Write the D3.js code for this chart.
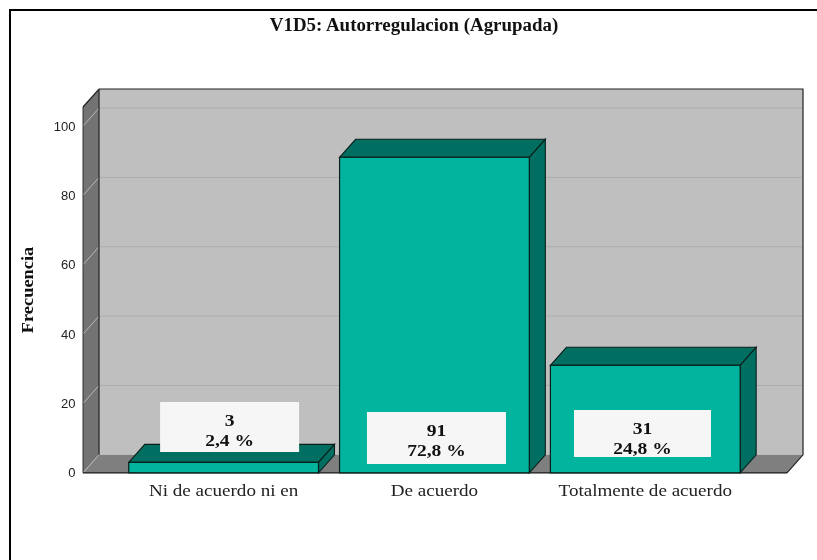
<!DOCTYPE html>
<html><head><meta charset="utf-8">
<script src="https://cdn.jsdelivr.net/npm/d3@7"></script>
<style>html,body{margin:0;padding:0;background:#fff}svg{display:block;filter:blur(.3px)}</style>
</head><body><svg id="c" width="817" height="560"></svg>
<script>
const categories = ["Ni de acuerdo ni en", "De acuerdo", "Totalmente de acuerdo"];
const counts = [3, 91, 31];
const percents = ["2,4 %", "72,8 %", "24,8 %"];
const yTicks = [0, 20, 40, 60, 80, 100];
const title = "V1D5: Autorregulacion (Agrupada)";
const yTitle = "Frecuencia";

const svg = d3.select("#c");
const dx = 16, dy = -18;
const y = d3.scaleLinear().domain([0, 105.5]).range([472.8, 107]);
const x = d3.scaleBand().domain(categories).range([118.2, 750.7]).paddingInner(0.1).paddingOuter(0.05);
const left = 83, right = 787, y0 = y(0), yT = y(105.5);
const serif = "'Liberation Serif','Times New Roman',serif";
const poly = (pts, fill, stroke, sw) => svg.append("polygon")
  .attr("points", pts.map(p => p.join(",")).join(" "))
  .attr("fill", fill).attr("stroke", stroke || "none").attr("stroke-width", sw || 0);
// the reference's serif glyphs are wider than the font's natural widths
const stretch = (sel, k) => sel.each(function () {
  const w = this.getComputedTextLength();
  d3.select(this).attr("textLength", w * k).attr("lengthAdjust", "spacingAndGlyphs");
});

// frame
svg.append("path").attr("d", "M10,560V10H817").attr("fill", "none").attr("stroke", "#000").attr("stroke-width", 2);

// walls
poly([[left + dx, yT + dy], [right + dx, yT + dy], [right + dx, y0 + dy], [left + dx, y0 + dy]], "#bfbfbf");
poly([[left, y0], [left + dx, y0 + dy], [left + dx, yT + dy], [left, yT]], "#737373");
poly([[left, y0], [left + dx, y0 + dy], [right + dx, y0 + dy], [right, y0]], "#7f7f7f");

// gridlines
yTicks.filter(t => t > 0).forEach(t => {
  svg.append("line").attr("x1", left + dx).attr("x2", right + dx).attr("y1", y(t) + dy).attr("y2", y(t) + dy).attr("stroke", "#adadad");
});
yTicks.forEach(t => {
  svg.append("line").attr("x1", left).attr("x2", left + dx).attr("y1", y(t)).attr("y2", y(t) + dy).attr("stroke", "#b9b9b9");
});

// wall outlines
svg.append("path").attr("d", `M${left},${yT}L${left + dx},${yT + dy}H${right + dx}V${y0 + dy}L${right},${y0}`)
  .attr("fill", "none").attr("stroke", "#222").attr("stroke-width", 1.2);
svg.append("line").attr("x1", left + dx).attr("x2", left + dx).attr("y1", yT + dy).attr("y2", y0 + dy).attr("stroke", "#333").attr("stroke-width", 1.4);
svg.append("line").attr("x1", left).attr("x2", left).attr("y1", yT).attr("y2", y0).attr("stroke", "#333");
svg.append("line").attr("x1", left).attr("x2", right).attr("y1", y0).attr("y2", y0).attr("stroke", "#111").attr("stroke-width", 1.2);

// bars
categories.forEach((c, i) => {
  const x0 = x(c), x1 = x0 + x.bandwidth(), t = y(counts[i]);
  const st = "#0a1f1b";
  poly([[x0, t], [x0 + dx, t + dy], [x1 + dx, t + dy], [x1, t]], "#006e60", st, 1.1);
  poly([[x1, t], [x1 + dx, t + dy], [x1 + dx, y0 + dy], [x1, y0]], "#006e60", st, 1.1);
  svg.append("rect").attr("x", x0).attr("y", t).attr("width", x.bandwidth()).attr("height", y0 - t)
    .attr("fill", "#00b49e").attr("stroke", st).attr("stroke-width", 1.2);
});

// y axis
const ax = svg.append("g").attr("transform", `translate(${left - 7.5},0)`)
  .call(d3.axisLeft(y).tickValues(yTicks).tickSize(0).tickPadding(0).tickFormat(d3.format("d")));
ax.select(".domain").remove();
ax.selectAll("text").attr("font-family", "'Liberation Sans',Arial,sans-serif").attr("font-size", 13).attr("fill", "#222");

// x axis
const bx = svg.append("g").attr("transform", `translate(0,${y0})`)
  .call(d3.axisBottom(x).tickSize(0).tickPadding(11));
bx.select(".domain").remove();
bx.selectAll("text").attr("font-family", serif).attr("font-size", 17.5).attr("fill", "#222").call(stretch, 1.09);

// titles
svg.append("text").attr("x", 414).attr("y", 31).attr("text-anchor", "middle").attr("font-family", serif)
  .attr("font-weight", "bold").attr("font-size", 18).attr("fill", "#111").text(title).call(stretch, 1.05);
svg.append("text").attr("transform", "translate(33,290) rotate(-90)").attr("text-anchor", "middle").attr("font-family", serif)
  .attr("font-weight", "bold").attr("font-size", 17.5).attr("fill", "#111").text(yTitle).call(stretch, 1.05);

// value labels
const labelW = [139, 139, 137], labelH = [50, 52, 47], labelTop = [402, 412, 410];
categories.forEach((c, i) => {
  const cx = x(c) + x.bandwidth() / 2 + [6, 2, -2.8][i];
  svg.append("rect").attr("x", cx - labelW[i] / 2).attr("y", labelTop[i]).attr("width", labelW[i]).attr("height", labelH[i]).attr("fill", "#f6f6f6");
  [counts[i], percents[i]].forEach((s, j) => {
    svg.append("text").attr("x", cx).attr("y", labelTop[i] + [24, 43.5][j]).attr("text-anchor", "middle")
      .attr("font-family", serif).attr("font-weight", "bold").attr("font-size", 17).attr("fill", "#111")
      .text(s).call(stretch, 1.15);
  });
});
</script></body></html>
